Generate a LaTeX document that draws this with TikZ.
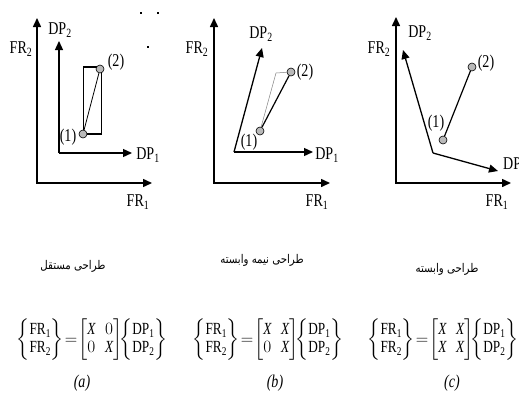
\documentclass[tikz,border=0pt]{standalone}
\usepackage{amsmath}
\usepackage{fontspec}
\setmainfont{Liberation Serif}[FakeStretch=0.78]
\newfontfamily\farsi[Script=Arabic,FakeStretch=0.85]{DejaVu Sans}
\TeXXeTstate=1
\usetikzlibrary{arrows.meta}
\newcommand{\fr}[1]{\text{FR}_{\text{#1}}}
\newcommand{\dpv}[1]{\text{DP}_{\text{#1}}}
\newcommand{\vx}{\textit{X}}
\newcommand{\colv}[2]{\left\{\begin{array}{@{}c@{}}#1\\#2\end{array}\right\}}
\newcommand{\mat}[4]{\left[\begin{array}{@{}c@{\;\;}c@{}}#1&#2\\#3&#4\end{array}\right]}
\newcommand{\eqs}{\mkern-2mu{=}\mkern-2mu}
\tikzset{
  frax/.style={line width=1.5pt, {Triangle[length=9pt,width=8pt]}-{Triangle[length=9pt,width=8pt]}},
  dpax/.style={line width=1.3pt, -{Triangle[length=9pt,width=8pt]}},
  pnt/.style={circle, draw, fill=gray!55, inner sep=0pt, minimum size=8pt, line width=0.6pt},
  lbl/.style={inner sep=0pt, font=\fontsize{18}{20}\selectfont},
  fa/.style={inner sep=0pt, font=\farsi\fontsize{12}{13}\selectfont},
  eqn/.style={inner sep=0pt, font=\fontsize{17}{18}\selectfont},
}
\begin{document}
\begin{tikzpicture}[x=1pt, y=-1pt]
  \useasboundingbox (0,0) rectangle (519,394);
  % (a) independent
  \coordinate (fr1a) at (152,183);
  \coordinate (fr2a) at (37,18);
  \draw[frax] (fr2a) |- (fr1a);
  \coordinate (oa) at (59,153);
  \coordinate (dp1a) at (132,153);
  \coordinate (dp2a) at (59,41);
  \draw[dpax] (oa) -- (dp1a);
  \draw[dpax] (oa) -- (dp2a);
  \draw[line width=0.6pt] (83,67) rectangle (101,134);
  \draw[line width=1.4pt] (83,67) -- (100,67);
  \draw[line width=1.4pt] (83,134) -- (101,134);
  \node[pnt] (p1a) at (83,134) {};
  \node[pnt] (p2a) at (100,69) {};
  \draw[line width=0.8pt] (p1a) -- (p2a);
  \node[lbl] at (68,137) {(1)};
  \node[lbl] at (116,62) {(2)};
  \node[lbl] at (21,49) {$\fr{2}$};
  \node[lbl] at (60,30) {$\dpv{2}$};
  \node[lbl] at (148,155) {$\dpv{1}$};
  \node[lbl] at (138,202) {$\fr{1}$};
  % (b) semi-dependent
  \coordinate (fr1b) at (330,183);
  \coordinate (fr2b) at (214,18);
  \draw[frax] (fr2b) |- (fr1b);
  \coordinate (ob) at (234,152);
  \coordinate (dp1b) at (313,152);
  \coordinate (dp2b) at (262,48);
  \draw[dpax] (ob) -- (dp1b);
  \draw[dpax] (ob) -- (dp2b);
  \node[pnt] (p1b) at (260,131) {};
  \node[pnt] (p2b) at (291,72) {};
  \draw[line width=0.5pt, gray] (p1b) -- (276,73) -- (p2b);
  \draw[line width=1.2pt] (p1b) -- (p2b);
  \node[lbl] at (249,142) {(1)};
  \node[lbl] at (305,72) {(2)};
  \node[lbl] at (197,49) {$\fr{2}$};
  \node[lbl] at (261,34) {$\dpv{2}$};
  \node[lbl] at (327,155) {$\dpv{1}$};
  \node[lbl] at (317,202) {$\fr{1}$};
  % (c) dependent
  \coordinate (fr1c) at (511,183);
  \coordinate (fr2c) at (396,17);
  \draw[frax] (fr2c) |- (fr1c);
  \coordinate (oc) at (433,153);
  \coordinate (dp1c) at (498,171);
  \coordinate (dp2c) at (403,50);
  \draw[dpax] (oc) -- (dp1c);
  \draw[dpax] (oc) -- (dp2c);
  \node[pnt] (p1c) at (443,140) {};
  \node[pnt] (p2c) at (472,67) {};
  \draw[line width=1.2pt] (p1c) -- (p2c);
  \node[lbl] at (436,123) {(1)};
  \node[lbl] at (486,63) {(2)};
  \node[lbl] at (379,49) {$\fr{2}$};
  \node[lbl] at (420,33) {$\dpv{2}$};
  \node[lbl, anchor=west] at (503,165) {$\dpv{1}$};
  \node[lbl] at (497,202) {$\fr{1}$};
  % stray dots
  \fill (140,12) rectangle (142,14);
  \fill (157,12) rectangle (159,14);
  \fill (147,46) rectangle (149,48);
  % captions
  \node[fa] (capa) at (73,266) {\beginR طراحی مستقل\endR};
  \node[fa] (capb) at (262,260) {\beginR طراحی نیمه وابسته\endR};
  \node[fa] (capc) at (447,269) {\beginR طراحی وابسته\endR};
  % matrices
  \node[eqn] (eqa) at (92,340) {$\colv{\fr{1}}{\fr{2}}\eqs\mat{\vx}{0}{0}{\vx}\!\!\colv{\dpv{1}}{\dpv{2}}$};
  \node[eqn] (eqb) at (268,340) {$\colv{\fr{1}}{\fr{2}}\eqs\mat{\vx}{\vx}{0}{\vx}\!\!\colv{\dpv{1}}{\dpv{2}}$};
  \node[eqn] (eqc) at (443,340) {$\colv{\fr{1}}{\fr{2}}\eqs\mat{\vx}{\vx}{\vx}{\vx}\!\!\colv{\dpv{1}}{\dpv{2}}$};
  \node[lbl] (la) at (82,383) {\textit{(a)}};
  \node[lbl] (lb) at (275,383) {\textit{(b)}};
  \node[lbl] (lc) at (452,383) {\textit{(c)}};
\end{tikzpicture}
\end{document}
